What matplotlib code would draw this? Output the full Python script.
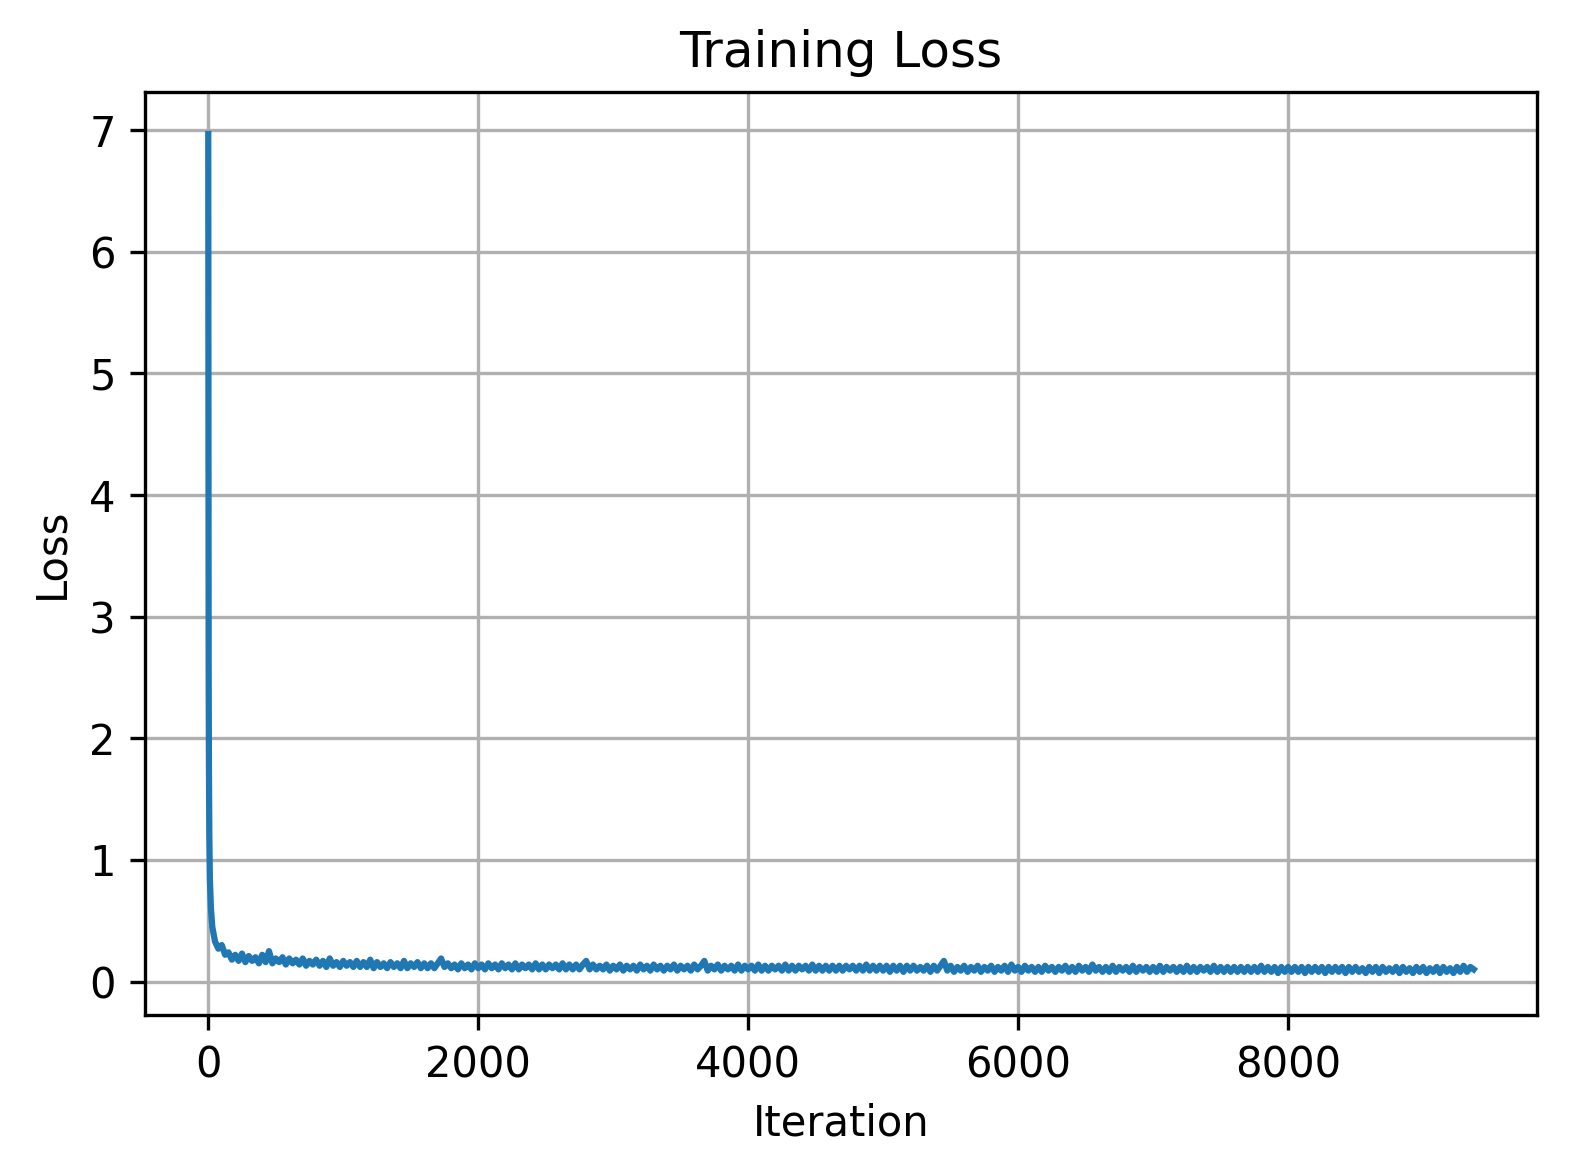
import numpy as np
import matplotlib
matplotlib.use('Agg')
import matplotlib.pyplot as plt

# ============================================================
# Data (loss per iteration)
# ============================================================
# steep initial drop
ITER_EARLY = [0, 1, 2, 3, 5, 8, 12, 20, 30, 50, 75, 100, 125]
LOSS_EARLY = [6.97, 5.2, 3.6, 2.6, 1.8, 1.2, 0.85, 0.6, 0.45, 0.33, 0.27, 0.30, 0.22]

# noisy plateau, sampled every 25 iterations from 150 to 9375
SAMPLE_START = 150
SAMPLE_STEP = 25
LOSS_PLATEAU = [
    # 150 - 625
    0.24, 0.18, 0.22, 0.17, 0.23, 0.16, 0.21, 0.17, 0.20, 0.15,
    0.22, 0.16, 0.25, 0.15, 0.19, 0.16, 0.20, 0.14, 0.19, 0.15,
    # 650 - 1125
    0.18, 0.14, 0.19, 0.13, 0.17, 0.14, 0.18, 0.13, 0.17, 0.12,
    0.19, 0.13, 0.16, 0.12, 0.17, 0.13, 0.16, 0.12, 0.17, 0.12,
    # 1150 - 1625
    0.16, 0.12, 0.18, 0.11, 0.16, 0.12, 0.15, 0.11, 0.16, 0.12,
    0.15, 0.11, 0.17, 0.11, 0.15, 0.12, 0.16, 0.11, 0.15, 0.11,
    # 1650 - 2125
    0.15, 0.11, 0.15, 0.19, 0.12, 0.15, 0.11, 0.14, 0.10, 0.15,
    0.11, 0.14, 0.10, 0.15, 0.11, 0.14, 0.10, 0.15, 0.11, 0.14,
    # 2150 - 2625
    0.10, 0.15, 0.11, 0.14, 0.10, 0.15, 0.10, 0.14, 0.11, 0.14,
    0.10, 0.15, 0.10, 0.14, 0.10, 0.14, 0.11, 0.14, 0.10, 0.15,
    # 2650 - 3125
    0.10, 0.14, 0.10, 0.14, 0.10, 0.14, 0.17, 0.10, 0.14, 0.10,
    0.13, 0.10, 0.14, 0.09, 0.13, 0.10, 0.14, 0.09, 0.13, 0.10,
    # 3150 - 3625
    0.13, 0.09, 0.14, 0.10, 0.13, 0.09, 0.14, 0.10, 0.13, 0.09,
    0.13, 0.10, 0.14, 0.09, 0.13, 0.10, 0.13, 0.09, 0.14, 0.10,
    # 3650 - 4125
    0.13, 0.17, 0.09, 0.13, 0.10, 0.14, 0.09, 0.13, 0.10, 0.13,
    0.09, 0.14, 0.09, 0.13, 0.10, 0.13, 0.09, 0.14, 0.09, 0.13,
    # 4150 - 4625
    0.09, 0.13, 0.10, 0.13, 0.09, 0.14, 0.09, 0.13, 0.09, 0.13,
    0.10, 0.13, 0.09, 0.14, 0.09, 0.13, 0.09, 0.13, 0.09, 0.13,
    # 4650 - 5125
    0.09, 0.13, 0.09, 0.13, 0.10, 0.13, 0.09, 0.13, 0.09, 0.14,
    0.09, 0.13, 0.09, 0.13, 0.09, 0.13, 0.08, 0.13, 0.09, 0.13,
    # 5150 - 5625
    0.08, 0.13, 0.09, 0.13, 0.09, 0.12, 0.09, 0.13, 0.08, 0.13,
    0.09, 0.13, 0.17, 0.09, 0.13, 0.08, 0.12, 0.09, 0.13, 0.08,
    # 5650 - 6125
    0.12, 0.09, 0.13, 0.08, 0.12, 0.09, 0.13, 0.08, 0.12, 0.09,
    0.13, 0.08, 0.14, 0.09, 0.12, 0.08, 0.13, 0.09, 0.12, 0.08,
    # 6150 - 6625
    0.12, 0.08, 0.13, 0.09, 0.12, 0.08, 0.12, 0.09, 0.13, 0.08,
    0.12, 0.08, 0.13, 0.09, 0.12, 0.08, 0.14, 0.09, 0.12, 0.08,
    # 6650 - 7125
    0.12, 0.08, 0.13, 0.08, 0.12, 0.09, 0.12, 0.08, 0.13, 0.08,
    0.12, 0.09, 0.12, 0.08, 0.12, 0.08, 0.13, 0.08, 0.12, 0.09,
    # 7150 - 7625
    0.12, 0.08, 0.12, 0.08, 0.13, 0.08, 0.12, 0.08, 0.12, 0.09,
    0.12, 0.08, 0.13, 0.08, 0.12, 0.08, 0.12, 0.08, 0.12, 0.08,
    # 7650 - 8125
    0.12, 0.08, 0.12, 0.08, 0.12, 0.08, 0.13, 0.08, 0.12, 0.08,
    0.12, 0.07, 0.12, 0.08, 0.12, 0.08, 0.12, 0.08, 0.12, 0.07,
    # 8150 - 8625
    0.12, 0.08, 0.12, 0.08, 0.12, 0.07, 0.12, 0.08, 0.12, 0.08,
    0.12, 0.07, 0.12, 0.08, 0.12, 0.08, 0.11, 0.07, 0.12, 0.08,
    # 8650 - 9125
    0.12, 0.07, 0.12, 0.08, 0.11, 0.08, 0.12, 0.07, 0.12, 0.08,
    0.11, 0.07, 0.12, 0.08, 0.12, 0.07, 0.11, 0.08, 0.12, 0.07,
    # 9150 - 9375
    0.12, 0.08, 0.11, 0.07, 0.12, 0.08, 0.13, 0.08, 0.12, 0.10,
]

# ============================================================
# Plot
# ============================================================
iters_plateau = SAMPLE_START + SAMPLE_STEP * np.arange(len(LOSS_PLATEAU))
iterations = np.concatenate([ITER_EARLY, iters_plateau])
losses = np.concatenate([LOSS_EARLY, LOSS_PLATEAU])

fig, ax = plt.subplots(figsize=(5.23, 3.92), dpi=300)
fig.subplots_adjust(left=0.0924, right=0.9796, top=0.9218, bottom=0.1369)

ax.plot(iterations, losses, color='#1f77b4', linewidth=1.5)

ax.set_title('Training Loss')
ax.set_xlabel('Iteration')
ax.set_ylabel('Loss')
ax.grid(True)

fig.savefig('out.png', dpi=300)
plt.close(fig)
